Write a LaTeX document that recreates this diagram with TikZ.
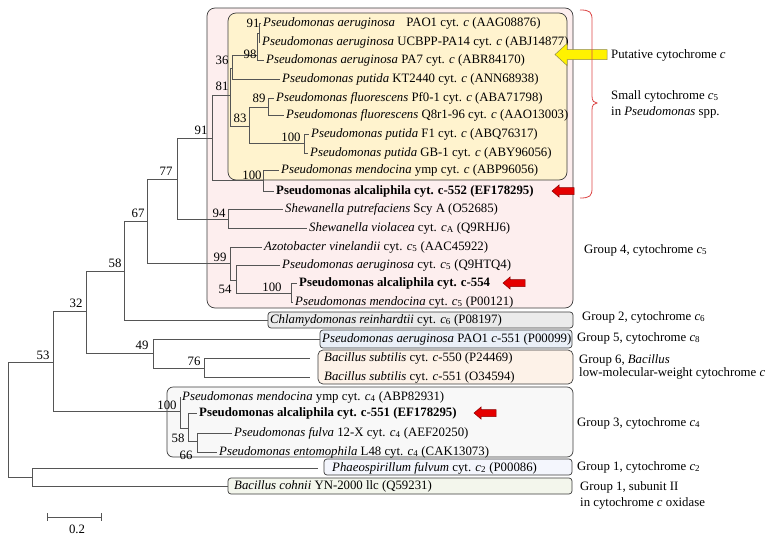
\documentclass[tikz,border=0pt]{standalone}
\usepackage{fontspec}
\setmainfont{Liberation Serif}
\definecolor{treeline}{RGB}{85,85,85}
\definecolor{boxline}{RGB}{60,60,60}
\definecolor{pinkbox}{RGB}{253,238,238}
\definecolor{yellowbox}{RGB}{255,243,206}
\definecolor{graybox}{RGB}{235,235,235}
\definecolor{bluebox}{RGB}{234,240,248}
\definecolor{peachbox}{RGB}{253,242,232}
\definecolor{lgraybox}{RGB}{248,248,248}
\definecolor{paleblue}{RGB}{244,246,253}
\definecolor{greenbox}{RGB}{243,246,236}
\definecolor{bracered}{RGB}{220,70,70}
\newcommand{\cytc}[1]{\textit{c}\textsubscript{#1}}
\newcommand{\redarr}[2]{\filldraw[redarr] (#1,#2) -- ++(7,-6) -- ++(0,2.5) -- ++(15,0) -- ++(0,7) -- ++(-15,0) -- ++(0,2.5) -- cycle;}

\begin{document}
\begin{tikzpicture}[x=1pt, y=-1pt, font=\fontsize{12.8}{16}\selectfont,
  branch/.style={draw=treeline, line width=0.8pt},
  leaf/.style={anchor=west, inner xsep=2pt, inner ysep=0pt, text height=9pt, text depth=3pt},
  boot/.style={inner sep=0pt},
  grp/.style={anchor=west, align=left, inner sep=2pt},
  box/.style={draw=boxline, line width=0.7pt},
  redarr/.style={draw=red!55!black, fill=red!90!black, line width=0.5pt}]
  \useasboundingbox (0,0) rectangle (779,541);

  \draw[box, fill=pinkbox, rounded corners=8pt] (207,8) rectangle (573,308);
  \draw[box, fill=yellowbox, rounded corners=8pt] (228,13) rectangle (567,180);
  \draw[box, fill=graybox, rounded corners=3pt] (268,312) rectangle (573,328);
  \draw[box, fill=bluebox, rounded corners=3pt] (320,330) rectangle (572,348);
  \draw[box, fill=peachbox, rounded corners=5pt] (318,350) rectangle (573,384);
  \draw[box, fill=lgraybox, rounded corners=6pt] (167,387) rectangle (573,457);
  \draw[box, fill=paleblue, rounded corners=3pt] (324,459) rectangle (572,475);
  \draw[box, fill=greenbox, rounded corners=3pt] (228,478) rectangle (572,494);

  \coordinate (root) at (8,420);
  \coordinate (n53) at (53,362);
  \coordinate (n32) at (86,311);
  \coordinate (n58) at (124,271);
  \coordinate (n67) at (147,221);
  \coordinate (n77) at (177,179);
  \coordinate (n91) at (212,138);
  \coordinate (n81) at (230,95);
  \coordinate (n36) at (232,68);
  \coordinate (n98) at (257,55);
  \coordinate (n91a) at (259,33);
  \coordinate (n83) at (249,126);
  \coordinate (n89) at (268,107);
  \coordinate (n100p) at (304,143);
  \coordinate (n100m) at (263,180);
  \coordinate (n94) at (228,219);
  \coordinate (n99) at (230,263);
  \coordinate (n54) at (236,280);
  \coordinate (n100c) at (291,293);
  \coordinate (n49) at (153,353);
  \coordinate (n76) at (204,368);
  \coordinate (nG3) at (180,411);
  \coordinate (n58b) at (188,428);
  \coordinate (n66) at (197,441);
  \coordinate (nB) at (32,477);

  \node[leaf] (pa1) at (261,23) {\textit{Pseudomonas aeruginosa}\hspace{8pt} PAO1 cyt. \textit{c} (AAG08876)};
  \node[leaf] (pa14) at (260,42) {\textit{Pseudomonas aeruginosa} UCBPP-PA14 cyt. \textit{c} (ABJ14877)};
  \node[leaf] (pa7) at (264,60) {\textit{Pseudomonas aeruginosa} PA7 cyt. \textit{c} (ABR84170)};
  \node[leaf] (kt) at (280,79) {\textit{Pseudomonas putida} KT2440 cyt. \textit{c} (ANN68938)};
  \node[leaf] (pf) at (274,98) {\textit{Pseudomonas fluorescens} Pf0-1 cyt. \textit{c} (ABA71798)};
  \node[leaf] (q8) at (284,115) {\textit{Pseudomonas fluorescens} Q8r1-96 cyt. \textit{c} (AAO13003)};
  \node[leaf] (f1) at (309,134) {\textit{Pseudomonas putida} F1 cyt. \textit{c} (ABQ76317)};
  \node[leaf] (gb) at (308,153) {\textit{Pseudomonas putida} GB-1 cyt. \textit{c} (ABY96056)};
  \node[leaf] (mym) at (279,170) {\textit{Pseudomonas mendocina} ymp cyt. \textit{c} (ABP96056)};
  \node[leaf] (a552) at (274,191) {\textbf{Pseudomonas alcaliphila cyt. c-552 (EF178295)}};
  \node[leaf] (spu) at (283,209) {\textit{Shewanella putrefaciens} Scy A (O52685)};
  \node[leaf] (svi) at (307,228) {\textit{Shewanella violacea} cyt. \cytc{A} (Q9RHJ6)};
  \node[leaf] (avi) at (262,247) {\textit{Azotobacter vinelandii} cyt. \cytc{5} (AAC45922)};
  \node[leaf] (pac5) at (280,265) {\textit{Pseudomonas aeruginosa} cyt. \cytc{5} (Q9HTQ4)};
  \node[leaf] (a554) at (297,283) {\textbf{Pseudomonas alcaliphila cyt. c-554}};
  \node[leaf] (mc5) at (293,302) {\textit{Pseudomonas mendocina} cyt. \cytc{5} (P00121)};
  \node[leaf] (chl) at (268,320) {\textit{Chlamydomonas reinhardtii} cyt. \cytc{6} (P08197)};
  \node[leaf] (p551) at (320,339) {\textit{Pseudomonas aeruginosa} PAO1 \textit{c}-551 (P00099)};
  \node[leaf, inner xsep=14pt] (bs550) at (310,358) {\textit{Bacillus subtilis} cyt. \textit{c}-550 (P24469)};
  \node[leaf, inner xsep=14pt] (bs551) at (310,377) {\textit{Bacillus subtilis} cyt. \textit{c}-551 (O34594)};
  \node[leaf] (mc4) at (180,397) {\textit{Pseudomonas mendocina} ymp cyt. \cytc{4} (ABP82931)};
  \node[leaf] (a551) at (197,413) {\textbf{Pseudomonas alcaliphila cyt. c-551 (EF178295)}};
  \node[leaf] (pfu) at (232,433) {\textit{Pseudomonas fulva} 12-X cyt. \cytc{4} (AEF20250)};
  \node[leaf] (pen) at (217,452) {\textit{Pseudomonas entomophila} L48 cyt. \cytc{4} (CAK13073)};
  \node[leaf, inner xsep=14pt] (phf) at (318,468) {\textit{Phaeospirillum fulvum} cyt. \cytc{2} (P00086)};
  \node[leaf, inner xsep=6pt] (bco) at (228,486) {\textit{Bacillus cohnii} YN-2000 llc (Q59231)};

  \draw[branch] (root) |- (n53) (root) |- (nB)
    (n53) |- (n32) (n53) |- (nG3)
    (n32) |- (n58) (n32) |- (n49)
    (n58) |- (n67) (n58) |- (chl.west)
    (n67) |- (n77) (n67) |- (n99)
    (n77) |- (n91) (n77) |- (n94)
    (n91) |- (n81) (n91) |- (n100m)
    (n81) |- (n36) (n81) |- (n83)
    (n36) |- (n98) (n36) |- (kt.west)
    (n98) |- (n91a) (n98) |- (pa7.west)
    (n91a) |- (pa1.west) (n91a) |- (pa14.west)
    (n83) |- (n89) (n83) |- (n100p)
    (n89) |- (pf.west) (n89) |- (q8.west)
    (n100p) |- (f1.west) (n100p) |- (gb.west)
    (n100m) |- (mym.west) (n100m) |- (a552.west)
    (n94) |- (spu.west) (n94) |- (svi.west)
    (n99) |- (avi.west) (n99) |- (n54)
    (n54) |- (pac5.west) (n54) |- (n100c)
    (n100c) |- (a554.west) (n100c) |- (mc5.west)
    (n49) |- (p551.west) (n49) |- (n76)
    (n76) |- (bs550.west) (n76) |- (bs551.west)
    (nG3) |- (mc4.west) (nG3) |- (n58b)
    (n58b) |- (a551.west) (n58b) |- (n66)
    (n66) |- (pfu.west) (n66) |- (pen.west)
    (nB) |- (phf.west) (nB) |- (bco.west);

  \node[boot] at (253,23) {91};
  \node[boot] at (250,54) {98};
  \node[boot] at (222,60) {36};
  \node[boot] at (222,86) {81};
  \node[boot] at (259,98) {89};
  \node[boot] at (240,118) {83};
  \node[boot] at (291,137) {100};
  \node[boot] at (252,175) {100};
  \node[boot] at (201,130) {91};
  \node[boot] at (166,171) {77};
  \node[boot] at (219,213) {94};
  \node[boot] at (138,213) {67};
  \node[boot] at (220,257) {99};
  \node[boot] at (225,289) {54};
  \node[boot] at (272,287) {100};
  \node[boot] at (115,263) {58};
  \node[boot] at (76,303) {32};
  \node[boot] at (142,345) {49};
  \node[boot] at (194,361) {76};
  \node[boot] at (43,355) {53};
  \node[boot] at (167,405) {100};
  \node[boot] at (178,438) {58};
  \node[boot] at (186,455) {66};

  \filldraw[draw=black!50!yellow, fill=yellow, line width=0.5pt] (555,54.5) -- (567,43.5) -- (567,49.5) -- (607,49.5) -- (607,59.5) -- (567,59.5) -- (567,65.5) -- cycle;
  \redarr{552}{191}
  \redarr{503}{283}
  \redarr{474}{413}
  \draw[bracered, line width=0.8pt] (580,10) .. controls (590,10) and (592,12) .. (592,20) -- (592,96)
    .. controls (592,101) and (594,103) .. (597,103) .. controls (594,103) and (592,105) .. (592,110)
    -- (592,188) .. controls (592,196) and (590,198) .. (580,198);

  \node[grp] (put) at (609,55) {Putative cytochrome \textit{c}};
  \node[grp] (small) at (609,104) {Small cytochrome \cytc{5}\\in \textit{Pseudomonas} spp.};
  \node[grp] (g4) at (582,250) {Group 4, cytochrome \cytc{5}};
  \node[grp] (g2) at (580,317) {Group 2, cytochrome \cytc{6}};
  \node[grp] (g5) at (575,338) {Group 5, cytochrome \cytc{8}};
  \node[grp] (g6) at (577,367) {Group 6, \textit{Bacillus}\\[-2.7pt]low-molecular-weight cytochrome \textit{c}};
  \node[grp] (g3) at (575,423) {Group 3, cytochrome \cytc{4}};
  \node[grp] (g1) at (575,467) {Group 1, cytochrome \cytc{2}};
  \node[grp] (g1ox) at (578,495) {Group 1, subunit II\\in cytochrome \textit{c} oxidase};

  \draw[branch, |-|] (47,517) -- (102,517);
  \node (scale) at (77,529) {0.2};
\end{tikzpicture}
\end{document}
